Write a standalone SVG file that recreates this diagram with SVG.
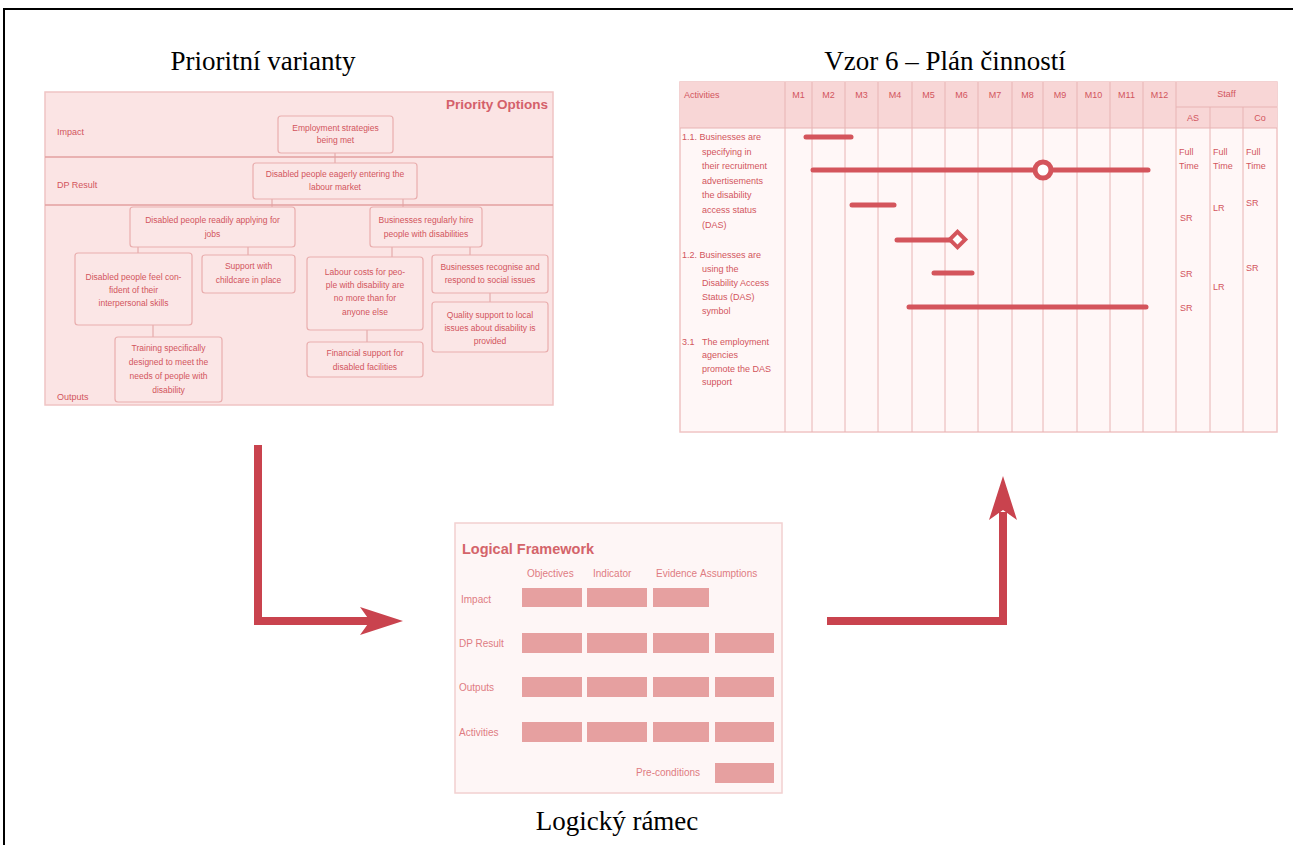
<svg xmlns="http://www.w3.org/2000/svg" width="1293" height="845" viewBox="0 0 1293 845">
<style>
.title{font-family:"Liberation Serif",serif;font-size:27px;fill:#000}
.po{font-family:"Liberation Sans",sans-serif;font-size:8.5px;fill:#d2555d;text-anchor:middle}
.lbl{font-family:"Liberation Sans",sans-serif;font-size:9px;fill:#d2555d}
.box{fill:#fbe6e6;stroke:#e9aeae;stroke-width:1.2}
.sep{stroke:#e3a0a0;stroke-width:1.5}
.cn{stroke:#e0a0a0;stroke-width:1}
.gt{font-family:"Liberation Sans",sans-serif;font-size:9px;fill:#d2555d}
.gh{font-family:"Liberation Sans",sans-serif;font-size:9px;fill:#d2555d;text-anchor:middle}
.gl{stroke:#e8b4b4;stroke-width:1}
.bar{stroke:#d4555c;stroke-width:5;stroke-linecap:round}
.lf{font-family:"Liberation Sans",sans-serif;font-size:10px;fill:#de7c82}
.lfb{fill:#e6a0a0}
.arr{fill:none;stroke:#c9434e;stroke-width:8}
.ah{fill:#c9434e}
</style>
<rect x="4" y="9" width="1300" height="850" fill="#fff" stroke="#000" stroke-width="2"/>
<g id="titles">
<text class="title" x="263" y="70" text-anchor="middle">Prioritní varianty</text>
<text class="title" x="945" y="70" text-anchor="middle">Vzor 6 – Plán činností</text>
<text class="title" x="617" y="830" text-anchor="middle">Logický rámec</text>
</g>
<g id="priority-options">
<rect x="45" y="92" width="508" height="313" fill="#fbe4e4" stroke="#f0c4c4" stroke-width="1.5"/>
<line class="sep" x1="45" y1="157" x2="553" y2="157"/>
<line class="sep" x1="45" y1="205" x2="553" y2="205"/>
<text x="548" y="109" text-anchor="end" font-family="Liberation Sans,sans-serif" font-size="13.5" font-weight="bold" fill="#d4606a">Priority Options</text>
<text class="lbl" x="57" y="135">Impact</text>
<text class="lbl" x="57" y="188">DP Result</text>
<text class="lbl" x="57" y="400">Outputs</text>
<g id="po-links">
<line class="cn" x1="335" y1="153" x2="335" y2="163"/>
<line class="cn" x1="272" y1="199" x2="272" y2="207"/>
<line class="cn" x1="403" y1="199" x2="403" y2="207"/>
<line class="cn" x1="138" y1="247" x2="138" y2="253"/>
<line class="cn" x1="248" y1="247" x2="248" y2="255"/>
<line class="cn" x1="153" y1="325" x2="153" y2="337"/>
<line class="cn" x1="392" y1="247" x2="392" y2="257"/>
<line class="cn" x1="367" y1="330" x2="367" y2="342"/>
<line class="cn" x1="470" y1="247" x2="470" y2="255"/>
<line class="cn" x1="490" y1="293" x2="490" y2="302"/>
</g>
<g id="b1"><rect class="box" x="278" y="116" width="115" height="37" rx="3"/><text class="po" x="335.5" y="131">Employment strategies</text><text class="po" x="335.5" y="143">being met</text></g>
<g id="b2"><rect class="box" x="253" y="163" width="164" height="36" rx="3"/><text class="po" x="335" y="177">Disabled people eagerly entering the</text><text class="po" x="335" y="190">labour market</text></g>
<g id="b3"><rect class="box" x="130" y="207" width="165" height="40" rx="3"/><text class="po" x="212.5" y="223">Disabled people readily applying for</text><text class="po" x="212.5" y="237">jobs</text></g>
<g id="b4"><rect class="box" x="370" y="207" width="112" height="40" rx="3"/><text class="po" x="426" y="223">Businesses regularly hire</text><text class="po" x="426" y="237">people with disabilities</text></g>
<g id="b5"><rect class="box" x="75" y="253" width="117" height="72" rx="3"/><text class="po" x="133.5" y="280">Disabled people feel con-</text><text class="po" x="133.5" y="293">fident of their</text><text class="po" x="133.5" y="306">interpersonal skills</text></g>
<g id="b6"><rect class="box" x="202" y="255" width="93" height="38" rx="3"/><text class="po" x="248.5" y="269">Support with</text><text class="po" x="248.5" y="283">childcare in place</text></g>
<g id="b7"><rect class="box" x="115" y="337" width="107" height="65" rx="3"/><text class="po" x="168.5" y="351">Training specifically</text><text class="po" x="168.5" y="365">designed to meet the</text><text class="po" x="168.5" y="379">needs of people with</text><text class="po" x="168.5" y="393">disability</text></g>
<g id="b8"><rect class="box" x="307" y="257" width="116" height="73" rx="3"/><text class="po" x="365" y="275">Labour costs for peo-</text><text class="po" x="365" y="288">ple with disability are</text><text class="po" x="365" y="301">no more than for</text><text class="po" x="365" y="315">anyone else</text></g>
<g id="b9"><rect class="box" x="307" y="342" width="116" height="35" rx="3"/><text class="po" x="365" y="356">Financial support for</text><text class="po" x="365" y="370">disabled facilities</text></g>
<g id="b10"><rect class="box" x="432" y="255" width="116" height="38" rx="3"/><text class="po" x="490" y="270">Businesses recognise and</text><text class="po" x="490" y="283">respond to social issues</text></g>
<g id="b11"><rect class="box" x="432" y="302" width="116" height="50" rx="3"/><text class="po" x="490" y="318">Quality support to local</text><text class="po" x="490" y="331">issues about disability is</text><text class="po" x="490" y="344">provided</text></g>
</g>
<g id="activity-plan">
<rect x="680" y="82" width="597" height="350" fill="#fff7f7" stroke="#f0c4c4" stroke-width="1.5"/>
<rect x="680" y="82" width="597" height="46" fill="#f8d6d6"/>
<line class="gl" x1="680" y1="128" x2="1277" y2="128"/>
<g id="gantt-grid">
<line class="gl" x1="785" y1="82" x2="785" y2="432"/>
<line class="gl" x1="812" y1="82" x2="812" y2="432"/>
<line class="gl" x1="845" y1="82" x2="845" y2="432"/>
<line class="gl" x1="878" y1="82" x2="878" y2="432"/>
<line class="gl" x1="912" y1="82" x2="912" y2="432"/>
<line class="gl" x1="945" y1="82" x2="945" y2="432"/>
<line class="gl" x1="978" y1="82" x2="978" y2="432"/>
<line class="gl" x1="1012" y1="82" x2="1012" y2="432"/>
<line class="gl" x1="1043" y1="82" x2="1043" y2="432"/>
<line class="gl" x1="1077" y1="82" x2="1077" y2="432"/>
<line class="gl" x1="1110" y1="82" x2="1110" y2="432"/>
<line class="gl" x1="1143" y1="82" x2="1143" y2="432"/>
<line class="gl" x1="1176" y1="82" x2="1176" y2="432"/>
<line class="gl" x1="1210" y1="107" x2="1210" y2="432"/>
<line class="gl" x1="1243" y1="107" x2="1243" y2="432"/>
<line class="gl" x1="1176" y1="107" x2="1277" y2="107"/>
</g>
<text class="gt" x="684" y="98">Activities</text>
<text class="gh" x="798.5" y="98">M1</text>
<text class="gh" x="828.5" y="98">M2</text>
<text class="gh" x="861.5" y="98">M3</text>
<text class="gh" x="895" y="98">M4</text>
<text class="gh" x="928.5" y="98">M5</text>
<text class="gh" x="961.5" y="98">M6</text>
<text class="gh" x="995" y="98">M7</text>
<text class="gh" x="1027.5" y="98">M8</text>
<text class="gh" x="1060" y="98">M9</text>
<text class="gh" x="1093.5" y="98">M10</text>
<text class="gh" x="1126.5" y="98">M11</text>
<text class="gh" x="1159.5" y="98">M12</text>
<text class="gh" x="1226.5" y="97">Staff</text>
<text class="gh" x="1193" y="121">AS</text>
<text class="gh" x="1260" y="121">Co</text>
<g id="activities-text">
<text class="gt" x="682" y="140">1.1. Businesses are</text>
<text class="gt" x="702" y="155">specifying in</text>
<text class="gt" x="702" y="169">their recruitment</text>
<text class="gt" x="702" y="184">advertisements</text>
<text class="gt" x="702" y="198">the disability</text>
<text class="gt" x="702" y="213">access status</text>
<text class="gt" x="702" y="228">(DAS)</text>
<text class="gt" x="682" y="258">1.2. Businesses are</text>
<text class="gt" x="702" y="272">using the</text>
<text class="gt" x="702" y="286">Disability Access</text>
<text class="gt" x="702" y="300">Status (DAS)</text>
<text class="gt" x="702" y="314">symbol</text>
<text class="gt" x="682" y="345">3.1</text>
<text class="gt" x="702" y="345">The employment</text>
<text class="gt" x="702" y="358">agencies</text>
<text class="gt" x="702" y="372">promote the DAS</text>
<text class="gt" x="702" y="385">support</text>
</g>
<g id="bars">
<line class="bar" x1="806" y1="137" x2="851" y2="137"/>
<line class="bar" x1="813" y1="170" x2="1148" y2="170"/>
<circle cx="1043" cy="170" r="8" fill="#fff" stroke="#d4555c" stroke-width="5"/>
<line class="bar" x1="852" y1="205" x2="894" y2="205"/>
<line class="bar" x1="897" y1="240" x2="952" y2="240"/>
<rect x="952" y="234" width="11" height="11" fill="#fff" stroke="#d4555c" stroke-width="4" transform="rotate(45 957.5 239.5)"/>
<line class="bar" x1="934" y1="273" x2="972" y2="273"/>
<line class="bar" x1="909" y1="307" x2="1146" y2="307"/>
</g>
<g id="staff-text">
<text class="gt" x="1179" y="155" font-size="8">Full</text>
<text class="gt" x="1179" y="169" font-size="8">Time</text>
<text class="gt" x="1213" y="155" font-size="8">Full</text>
<text class="gt" x="1213" y="169" font-size="8">Time</text>
<text class="gt" x="1246" y="155" font-size="8">Full</text>
<text class="gt" x="1246" y="169" font-size="8">Time</text>
<text class="gt" x="1180" y="221" font-size="8">SR</text>
<text class="gt" x="1213" y="211" font-size="8">LR</text>
<text class="gt" x="1246" y="206" font-size="8">SR</text>
<text class="gt" x="1180" y="277" font-size="8">SR</text>
<text class="gt" x="1213" y="290" font-size="8">LR</text>
<text class="gt" x="1246" y="271" font-size="8">SR</text>
<text class="gt" x="1180" y="311" font-size="8">SR</text>
</g>
</g>
<g id="logical-framework">
<rect x="455" y="523" width="327" height="270" fill="#fef6f6" stroke="#f2d0d0" stroke-width="1.5"/>
<text x="462" y="554" font-family="Liberation Sans,sans-serif" font-size="14.5" font-weight="bold" fill="#d4646a">Logical Framework</text>
<text class="lf" x="527" y="577">Objectives</text>
<text class="lf" x="593" y="577">Indicator</text>
<text class="lf" x="656" y="577">Evidence</text>
<text class="lf" x="700" y="577">Assumptions</text>
<text class="lf" x="461" y="603" font-size="9">Impact</text>
<text class="lf" x="459" y="647" font-size="9">DP Result</text>
<text class="lf" x="459" y="691" font-size="9">Outputs</text>
<text class="lf" x="459" y="736" font-size="9">Activities</text>
<text class="lf" x="700" y="776" font-size="9" text-anchor="end">Pre-conditions</text>
<rect class="lfb" x="522" y="588" width="60" height="19"/>
<rect class="lfb" x="587" y="588" width="60" height="19"/>
<rect class="lfb" x="653" y="588" width="56" height="19"/>
<rect class="lfb" x="522" y="633" width="60" height="20"/>
<rect class="lfb" x="587" y="633" width="60" height="20"/>
<rect class="lfb" x="653" y="633" width="56" height="20"/>
<rect class="lfb" x="715" y="633" width="59" height="20"/>
<rect class="lfb" x="522" y="677" width="60" height="20"/>
<rect class="lfb" x="587" y="677" width="60" height="20"/>
<rect class="lfb" x="653" y="677" width="56" height="20"/>
<rect class="lfb" x="715" y="677" width="59" height="20"/>
<rect class="lfb" x="522" y="722" width="60" height="20"/>
<rect class="lfb" x="587" y="722" width="60" height="20"/>
<rect class="lfb" x="653" y="722" width="56" height="20"/>
<rect class="lfb" x="715" y="722" width="59" height="20"/>
<rect class="lfb" x="715" y="763" width="59" height="20"/>
</g>
<g id="connectors">
<path class="arr" d="M258 445 V621 H372"/>
<polygon class="ah" points="403,621 360,607 370,621 360,635"/>
<path class="arr" d="M827 621 H1003 V512"/>
<polygon class="ah" points="1003,476 989,520 1003,510 1017,520"/>
</g>
</svg>
